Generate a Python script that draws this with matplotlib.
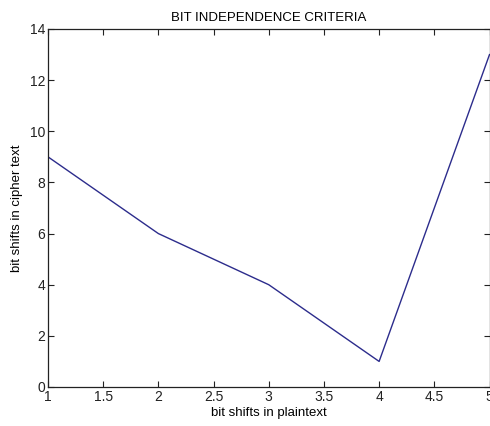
import matplotlib
matplotlib.use("Agg")
from matplotlib import pyplot as plt

# data
shifts_plain = [1, 2, 3, 4, 5]
shifts_cipher = [9, 6, 4, 1, 13]

x_ticks = [1, 1.5, 2, 2.5, 3, 3.5, 4, 4.5, 5]
x_tick_labels = ["1", "1.5", "2", "2.5", "3", "3.5", "4", "4.5", "5"]
y_ticks = [0, 2, 4, 6, 8, 10, 12, 14]

plt.rcParams["font.family"] = ["Liberation Sans", "DejaVu Sans"]

fig = plt.figure(figsize=(4.9, 4.26), dpi=100)
ax = fig.add_axes([48 / 490, 1 - 387 / 426, 441.5 / 490, 358 / 426])

ax.plot(shifts_plain, shifts_cipher, color="#2c2c8c", linewidth=1.0)

ax.set_xlim(1, 5)
ax.set_ylim(0, 14)
ax.set_xticks(x_ticks)
ax.set_xticklabels(x_tick_labels)
ax.set_yticks(y_ticks)

ax.tick_params(direction="in", top=True, right=True, length=4, width=0.8,
               labelsize=10, colors="#222222", pad=2)
for s in ax.spines.values():
    s.set_linewidth(0.9)
    s.set_color("#222222")

ax.set_title("BIT INDEPENDENCE CRITERIA", fontsize=9.5, pad=6)
ax.set_xlabel("bit shifts in plaintext", fontsize=9.5, labelpad=2)
ax.set_ylabel("bit shifts in cipher text", fontsize=9.5, labelpad=5)

plt.savefig("out.png", dpi=100)
